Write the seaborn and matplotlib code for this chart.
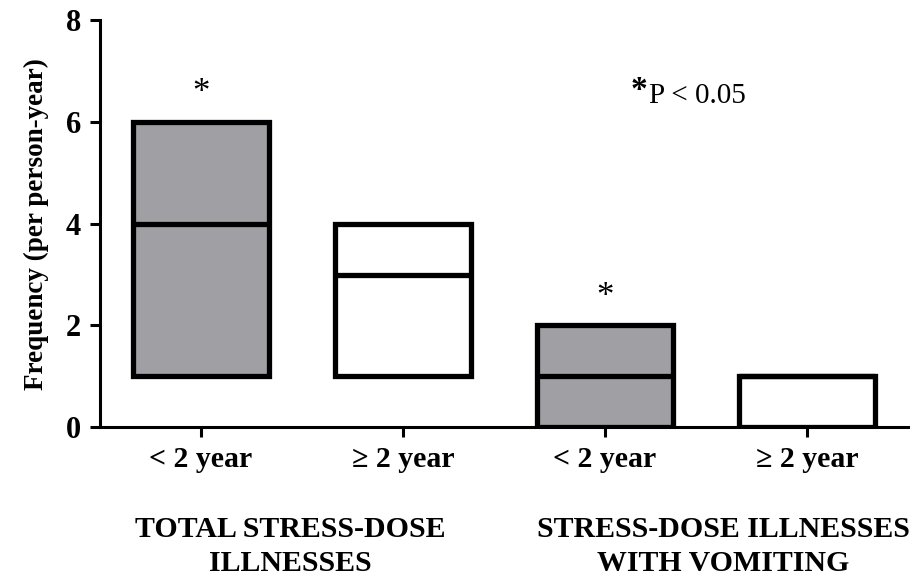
import numpy as np
import pandas as pd
import matplotlib
matplotlib.use('Agg')
import matplotlib.pyplot as plt
import seaborn as sns

# floating boxes: min / median / max per group
cat_ids = ['a', 'b', 'c', 'd']
tick_labels = ['< 2 year', '\u2265 2 year', '< 2 year', '\u2265 2 year']
lows = [1, 1, 0, 0]
medians = [4, 3, 1, 1]
highs = [6, 4, 2, 1]
fills = ['#a09fa4', 'white', '#a09fa4', 'white']
signif = [True, False, True, False]
group_labels = ['TOTAL STRESS-DOSE\nILLNESSES', 'STRESS-DOSE ILLNESSES\nWITH VOMITING']
yticks = [0, 2, 4, 6, 8]

df = pd.DataFrame({'cat': cat_ids,
                   'span': np.array(highs) - np.array(lows)})

sns.set_style('ticks', {'axes.edgecolor': 'black', 'text.color': 'black',
                        'xtick.color': 'black', 'ytick.color': 'black',
                        'axes.labelcolor': 'black'})
plt.rcParams['font.family'] = ['Liberation Serif', 'DejaVu Serif']
plt.rcParams['font.weight'] = 'bold'

fig = plt.figure(figsize=(9.18, 5.78), dpi=100)
ax = fig.add_axes([0.109, 0.261, 0.880, 0.704])

box_w = 0.67
sns.barplot(data=df, x='cat', y='span', order=cat_ids, errorbar=None,
            width=box_w, bottom=lows, color='white', saturation=1,
            edgecolor='black', linewidth=3.8, ax=ax)
for p, c in zip(ax.patches, fills):
    p.set_facecolor(c)
    p.set_joinstyle('miter')

pos = np.arange(len(cat_ids))
ax.hlines(medians, pos - box_w / 2, pos + box_w / 2, colors='black', linewidth=3.8)

for i, s in enumerate(signif):
    if s:
        ax.text(pos[i], highs[i] + 0.55, '*', ha='center', va='center',
                fontsize=25, fontweight='normal')

ax.text(2.22, 6.38, 'P < 0.05', ha='left', va='baseline', fontsize=21, fontweight='normal')
ax.text(2.21, 6.45, '*', ha='right', va='baseline', fontsize=24, fontweight='bold')

ax.set_xlim(-0.5, 3.5)
ax.set_ylim(0, 8)
ax.set_yticks(yticks)
ax.set_xticks(pos)
ax.set_xticklabels(tick_labels, fontsize=21.5, fontweight='bold')
ax.set_yticklabels([str(v) for v in yticks], fontsize=22, fontweight='bold')
ax.set_xlabel('')
ax.set_ylabel('Frequency (per person-year)', fontsize=19.5, fontweight='bold', labelpad=12)
ax.tick_params(axis='both', width=2.2, length=7.5, pad=6)
for side in ['left', 'bottom']:
    ax.spines[side].set_linewidth(2.2)
sns.despine(ax=ax)

fig.text(0.316, 0.108, group_labels[0], ha='center', va='top', fontsize=21.5,
         fontweight='bold', linespacing=1.35)
fig.text(0.788, 0.108, group_labels[1], ha='center', va='top', fontsize=21.5,
         fontweight='bold', linespacing=1.35)

fig.savefig('out.png', dpi=100)
